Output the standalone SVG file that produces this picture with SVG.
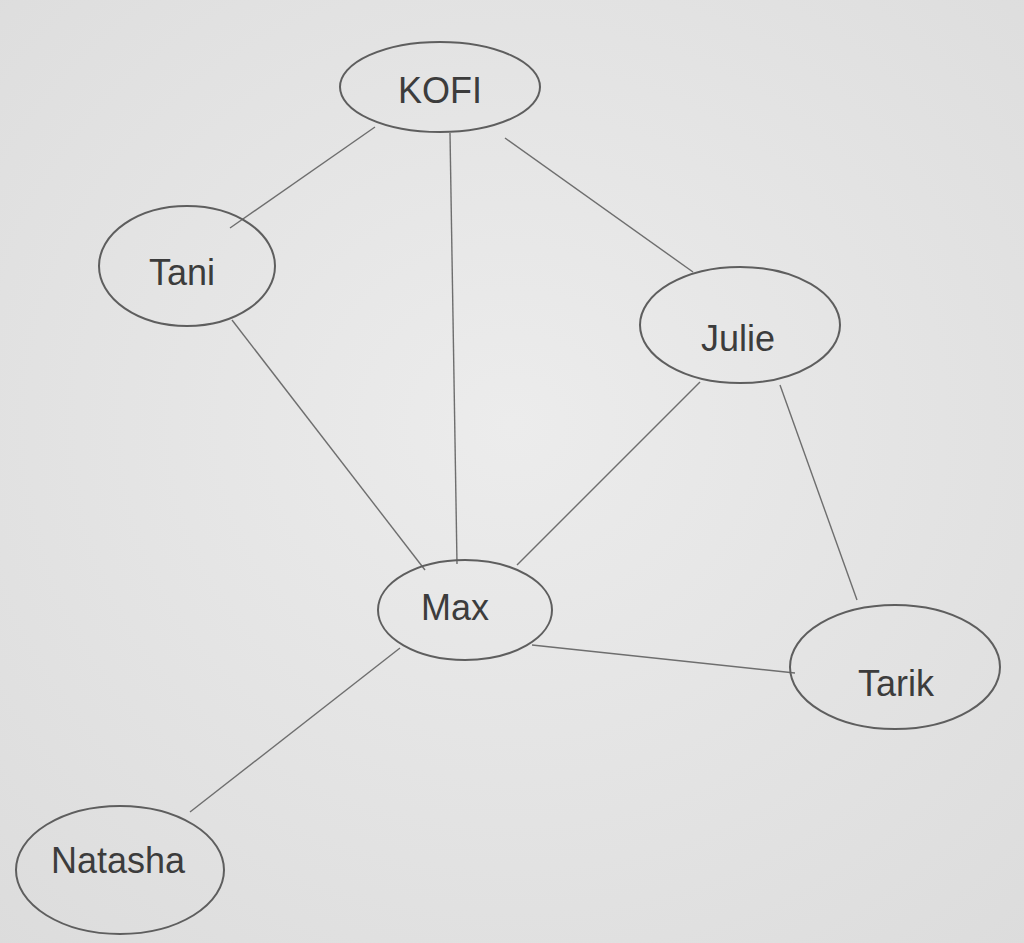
<svg xmlns="http://www.w3.org/2000/svg" width="1024" height="943" viewBox="0 0 1024 943">
<defs>
<style>
.n{fill:none;stroke:#5e5e5e;stroke-width:2}
.e{stroke:#6e6e6e;stroke-width:1.4;fill:none}
.t{font-family:"Liberation Sans",Arial,sans-serif;font-size:36px;fill:#3c3c3c;text-anchor:middle;dominant-baseline:central;font-weight:300}
</style>
<radialGradient id="bg" cx="0.5" cy="0.45" r="0.75">
<stop offset="0" stop-color="#ececec"/>
<stop offset="1" stop-color="#dcdcdc"/>
</radialGradient>
</defs>
<rect width="1024" height="943" fill="url(#bg)"/>
<g id="connectors">
<line class="e" x1="375" y1="127" x2="230" y2="228"/>
<line class="e" x1="450" y1="133" x2="457" y2="564"/>
<line class="e" x1="505" y1="138" x2="693" y2="272"/>
<line class="e" x1="232" y1="320" x2="425" y2="570"/>
<line class="e" x1="700" y1="382" x2="517" y2="565"/>
<line class="e" x1="780" y1="385" x2="857" y2="600"/>
<line class="e" x1="532" y1="645" x2="795" y2="673"/>
<line class="e" x1="400" y1="648" x2="190" y2="812"/>
</g>
<g id="kofi"><ellipse class="n" cx="440" cy="87" rx="100" ry="45"/><text class="t" x="440" y="90">KOFI</text></g>
<g id="tani"><ellipse class="n" cx="187" cy="266" rx="88" ry="60"/><text class="t" x="182" y="272">Tani</text></g>
<g id="julie"><ellipse class="n" cx="740" cy="325" rx="100" ry="58"/><text class="t" x="738" y="338">Julie</text></g>
<g id="max"><ellipse class="n" cx="465" cy="610" rx="87" ry="50"/><text class="t" x="455" y="607">Max</text></g>
<g id="tarik"><ellipse class="n" cx="895" cy="667" rx="105" ry="62"/><text class="t" x="896" y="683">Tarik</text></g>
<g id="natasha"><ellipse class="n" cx="120" cy="870" rx="104" ry="64"/><text class="t" x="118" y="860">Natasha</text></g>
</svg>
